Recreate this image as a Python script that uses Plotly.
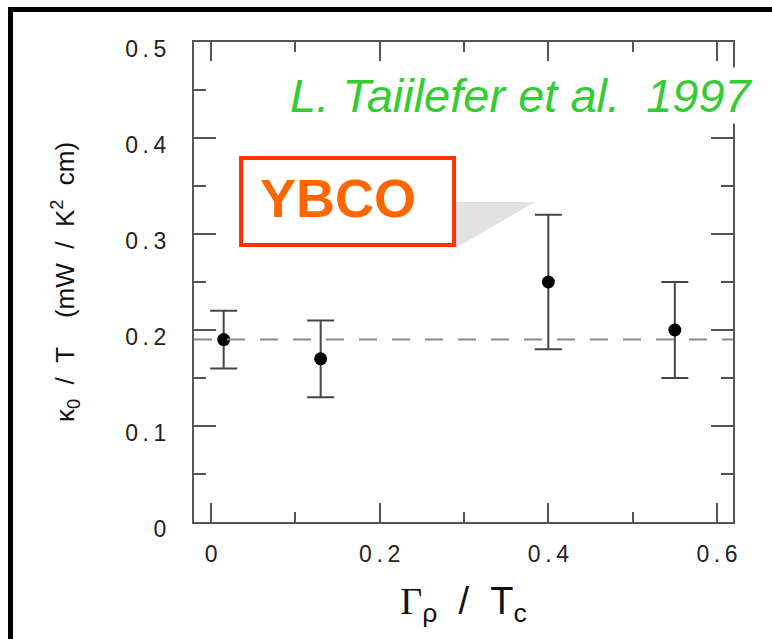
import plotly.graph_objects as go

# ---- data ----
gamma_over_tc = [0.015, 0.13, 0.40, 0.55]
kappa0_over_T = [0.19, 0.17, 0.25, 0.20]
kappa_err = [0.03, 0.04, 0.07, 0.05]
mean_level = 0.19

x_tickvals = [0, 0.2, 0.4, 0.6]
x_ticktext = ["0", "0\u2009.\u20092", "0\u2009.\u20094", "0\u2009.\u20096"]
y_tickvals = [0, 0.1, 0.2, 0.3, 0.4, 0.5]
y_ticktext = ["0", "0\u2009.\u20091", "0\u2009.\u20092", "0\u2009.\u20093",
              "0\u2009.\u20094", "0\u2009.\u20095"]

FONT = "Liberation Sans, Arial, sans-serif"
AXC = "#555555"
NB = "\u00a0"

fig = go.Figure()
fig.add_trace(go.Scatter(
    x=gamma_over_tc, y=kappa0_over_T, mode="markers",
    marker=dict(color="black", size=13),
    error_y=dict(type="data", array=kappa_err, visible=True,
                 color="#444444", thickness=2, width=13.5),
    showlegend=False,
))

# dashed mean line
fig.add_shape(type="line", xref="paper", x0=0, x1=1, yref="y",
              y0=mean_level, y1=mean_level,
              line=dict(color="#888888", width=2, dash="18px,15px"))

# callout tail (gray)
fig.add_shape(type="path", xref="x", yref="y",
              path="M 0.2882 0.3333 L 0.3842 0.3333 L 0.2905 0.2854 Z",
              fillcolor="#e2e2e2", line=dict(width=0))
# YBCO box
fig.add_shape(type="rect", xref="x", yref="y",
              x0=0.0356, x1=0.2882, y0=0.2885, y1=0.3792,
              fillcolor="white", line=dict(color="#ff3300", width=4))
fig.add_annotation(x=0.150, y=0.337,
                   xref="x", yref="y", text="<b>YBCO</b>", showarrow=False,
                   font=dict(family=FONT, size=54, color="#ff6600"))

# citation
fig.add_annotation(x=0.6067, y=0.889, xref="paper", yref="paper",
                   text="<i>L. Taiilefer et al.  1997</i>", showarrow=False,
                   bgcolor="white", xanchor="center", yanchor="middle",
                   font=dict(family=FONT, size=47, color="#33cc33"))

# outer frame
fig.add_shape(type="rect", xref="paper", yref="paper",
              x0=-0.3404, x1=1.3, y0=-0.4, y1=1.0677,
              line=dict(color="black", width=5), fillcolor="rgba(0,0,0,0)")

ytitle = ("\u03ba<sub>0</sub>" + NB * 2 + "/" + NB * 2 + "T" + NB * 4 +
          "(mW" + NB * 2 + "/" + NB * 2 + "K<sup>2</sup>" + NB * 2 + "cm)")
xtitle = ("<span style='font-family:Liberation Serif'>\u0393</span><sub>\u03c1</sub>"
          + NB * 2 + "/" + NB * 2 + "T<sub>c</sub>")

fig.update_layout(
    width=772, height=639,
    margin=dict(l=194, r=39, t=42, b=117),
    paper_bgcolor="white", plot_bgcolor="white",
    font=dict(family=FONT, color="#222222"),
    xaxis=dict(
        range=[-0.0202, 0.619], showgrid=False, zeroline=False,
        showline=True, linecolor=AXC, linewidth=2, mirror="ticks",
        ticks="inside", ticklen=19, tickwidth=1.5, tickcolor=AXC,
        tickvals=x_tickvals, ticktext=x_ticktext,
        tickfont=dict(size=23, color="#222222"),
        ticklabelstandoff=10,
        minor=dict(dtick=0.1, tick0=0, ticks="inside", ticklen=10,
                   tickwidth=1.5, tickcolor=AXC),
        title=dict(text=xtitle, font=dict(size=38, color="#111111"), standoff=22),
    ),
    yaxis=dict(
        range=[0, 0.5], showgrid=False, zeroline=False,
        showline=True, linecolor=AXC, linewidth=2, mirror="ticks",
        ticks="inside", ticklen=22, tickwidth=1.5, tickcolor=AXC,
        tickvals=y_tickvals, ticktext=y_ticktext,
        tickfont=dict(size=23, color="#222222"),
        ticklabelstandoff=21, ticklabelshift=7,
        minor=dict(dtick=0.05, tick0=0, ticks="inside", ticklen=12,
                   tickwidth=1.5, tickcolor=AXC),
        title=dict(text=ytitle, font=dict(size=26, color="#111111"), standoff=43),
    ),
)

fig.write_html("out.html")
